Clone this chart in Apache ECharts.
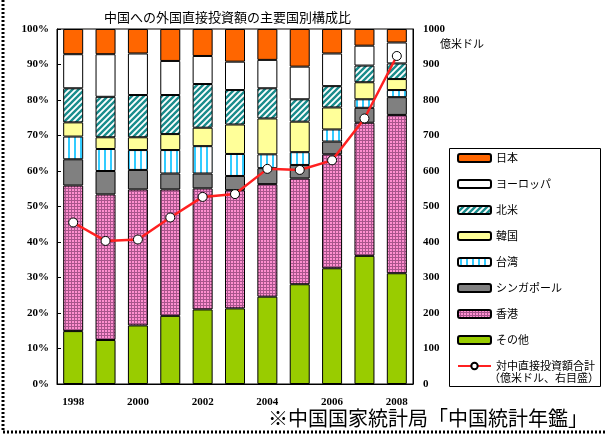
<!DOCTYPE html>
<html>
<head>
<meta charset="utf-8">
<script src="https://cdn.jsdelivr.net/npm/echarts@6/dist/echarts.min.js"></script>
<style>
  html, body { margin: 0; padding: 0; background: #fff; }
  #main { width: 605px; height: 435px; }
</style>
</head>
<body>
<div id="main"></div>
<script>
// 年
var years = ['1998', '1999', '2000', '2001', '2002', '2003', '2004', '2005', '2006', '2007', '2008'];
// 構成比 (%)
var sonota    = [14.9, 12.4, 16.5, 19.2, 21.0, 21.3, 24.6, 28.1, 32.6, 36.1, 31.2];
var hongkong  = [41.0, 41.0, 38.3, 35.6, 34.1, 33.3, 31.7, 29.8, 32.1, 37.5, 44.6];
var singapore = [7.4, 6.6, 5.5, 4.5, 4.2, 4.0, 4.5, 3.8, 3.6, 4.2, 5.0];
var taiwan    = [6.4, 6.2, 5.6, 6.6, 7.7, 6.2, 3.9, 3.6, 3.4, 2.4, 2.0];
var korea     = [4.0, 3.3, 3.6, 4.5, 5.2, 8.3, 10.1, 8.6, 6.2, 4.8, 3.1];
var northAm   = [9.6, 11.4, 11.9, 11.0, 12.3, 9.7, 8.5, 6.3, 6.0, 4.7, 4.4];
var europe    = [9.6, 12.0, 11.7, 9.6, 7.9, 8.0, 8.0, 9.2, 9.2, 5.6, 5.9];
var japan     = [7.1, 7.1, 6.9, 9.0, 7.6, 9.2, 8.7, 10.6, 6.9, 4.7, 3.8];
// 対中直接投資額合計 (億米ドル)
var totalFdi  = [455, 403, 407, 469, 527, 535, 606, 603, 630, 748, 924];

var pctTicks = ['0%', '10%', '20%', '30%', '40%', '50%', '60%', '70%', '80%', '90%', '100%'];

var jpFont = '"Noto Sans CJK JP", sans-serif';
var numFont = '"Liberation Serif", "DejaVu Serif", serif';

// 模様
function makePattern(w, h, draw) {
  var c = document.createElement('canvas');
  c.width = w; c.height = h;
  draw(c.getContext('2d'));
  return { image: c, repeat: 'repeat' };
}
var stripePattern = makePattern(6, 6, function (ctx) {
  ctx.fillStyle = '#ffffff';
  ctx.fillRect(0, 0, 6, 6);
  ctx.strokeStyle = '#1a8c8c';
  ctx.lineWidth = 2.4;
  ctx.beginPath();
  ctx.moveTo(-3, 9); ctx.lineTo(9, -3);
  ctx.moveTo(-9, 9); ctx.lineTo(3, -3);
  ctx.moveTo(3, 9); ctx.lineTo(15, -3);
  ctx.stroke();
});
var taiwanPattern = makePattern(6, 4, function (ctx) {
  ctx.fillStyle = '#ffffff';
  ctx.fillRect(0, 0, 6, 4);
  ctx.fillStyle = '#33ccff';
  ctx.fillRect(2, 0, 2, 4);
});
var hkPattern = makePattern(3, 3, function (ctx) {
  ctx.fillStyle = '#ff8fd0';
  ctx.fillRect(0, 0, 3, 3);
  ctx.fillStyle = '#a8558c';
  ctx.fillRect(2, 0, 1, 3);
  ctx.fillRect(0, 2, 2, 1);
});

function barSeries(name, data, color) {
  return {
    name: name,
    type: 'bar',
    stack: 'share',
    barWidth: 20,
    data: data,
    itemStyle: { color: color, borderColor: '#000', borderWidth: 1 },
    emphasis: { disabled: true },
    silent: true
  };
}

var chart = echarts.init(document.getElementById('main'));
chart.setOption({
  animation: false,
  title: {
    text: '中国への外国直接投資額の主要国別構成比',
    left: 99,
    top: 6,
    textStyle: { fontFamily: jpFont, fontSize: 13, fontWeight: 'normal', color: '#000' }
  },
  grid: {
    left: 57, right: 192, top: 29, bottom: 51,
    show: true, borderColor: '#000', borderWidth: 1
  },
  legend: {
    orient: 'vertical',
    left: 452,
    top: 146,
    itemWidth: 33,
    itemHeight: 8,
    itemGap: 12,
    textStyle: { fontFamily: jpFont, fontSize: 11, color: '#000', lineHeight: 14 },
    data: ['日本', 'ヨーロッパ', '北米', '韓国', '台湾', 'シンガポール', '香港', 'その他', '対中直接投資額合計']
  },
  xAxis: {
    type: 'category',
    data: years,
    axisLine: { lineStyle: { color: '#000' } },
    axisTick: { show: false },
    axisLabel: {
      interval: 1, margin: 13, color: '#000',
      fontFamily: numFont, fontWeight: 'bold', fontSize: 11
    }
  },
  yAxis: [{
    type: 'value',
    min: 0, max: 100, interval: 10,
    axisLine: { show: true, lineStyle: { color: '#000' } },
    axisTick: { show: true, inside: true, length: 4, lineStyle: { color: '#000' } },
    splitLine: { show: false },
    axisLabel: {
      margin: 8, color: '#000', fontFamily: numFont, fontWeight: 'bold', fontSize: 11,
      formatter: function (v) { return pctTicks[Math.round(v / 10)]; }
    }
  }, {
    type: 'value',
    min: 0, max: 1000, interval: 100,
    axisLine: { show: true, lineStyle: { color: '#000' } },
    axisTick: { show: false },
    splitLine: { show: false },
    axisLabel: {
      margin: 10, color: '#000', fontFamily: numFont, fontWeight: 'bold', fontSize: 11,
      formatter: function (v) { return String(v); }
    }
  }],
  series: [
    barSeries('その他', sonota, '#99cc00'),
    barSeries('香港', hongkong, hkPattern),
    barSeries('シンガポール', singapore, '#808080'),
    barSeries('台湾', taiwan, taiwanPattern),
    barSeries('韓国', korea, '#ffff99'),
    barSeries('北米', northAm, stripePattern),
    barSeries('ヨーロッパ', europe, '#ffffff'),
    barSeries('日本', japan, '#ff6600'),
    {
      name: '対中直接投資額合計',
      type: 'line',
      yAxisIndex: 1,
      data: totalFdi,
      symbol: 'circle',
      symbolSize: 9,
      lineStyle: { color: '#ff2020', width: 2.5 },
      itemStyle: { color: '#ffffff', borderColor: '#000', borderWidth: 1 },
      z: 5,
      silent: true
    }
  ],
  graphic: [
    {
      type: 'rect', silent: true,
      shape: { x: 449.5, y: 148.5, width: 151, height: 238 },
      style: { fill: 'none', stroke: '#000', lineWidth: 1 }
    },
    {
      type: 'text', left: 489, top: 372, silent: true,
      style: { text: '（億米ドル、右目盛）', font: '11px ' + jpFont, fill: '#000' }
    },
    {
      type: 'text', left: 440, top: 38, silent: true,
      style: { text: '億米ドル', font: '11px ' + jpFont, fill: '#000' }
    },
    {
      type: 'line', silent: true,
      shape: { x1: 3, y1: 0, x2: 3, y2: 432 },
      style: { stroke: '#000', lineWidth: 3, lineDash: [2, 2] }
    },
    {
      type: 'line', silent: true,
      shape: { x1: 3, y1: 432, x2: 605, y2: 432 },
      style: { stroke: '#000', lineWidth: 3, lineDash: [2, 2] }
    },
    {
      type: 'text', left: 268, top: 408, silent: true,
      style: { text: '※中国国家統計局「中国統計年鑑」', font: '20px ' + jpFont, fill: '#000' }
    }
  ]
});
</script>
</body>
</html>
